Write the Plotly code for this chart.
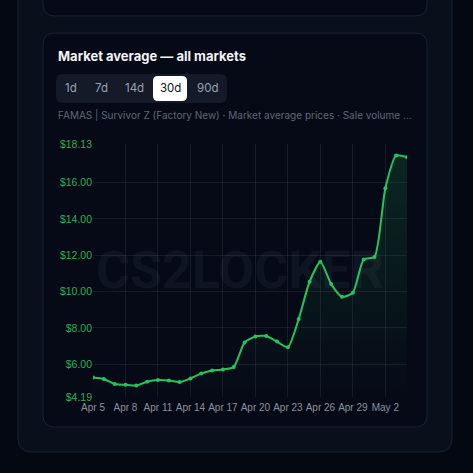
import plotly.graph_objects as go
import pandas as pd

# ---- data ----
dates = pd.date_range("2025-04-05", "2025-05-04", freq="D")
prices = [5.26, 5.18, 4.90, 4.86, 4.82, 5.03, 5.12, 5.10, 5.01, 5.21,
          5.48, 5.65, 5.70, 5.84, 7.19, 7.52, 7.55, 7.24, 6.93, 8.49,
          10.54, 11.64, 10.41, 9.71, 9.93, 11.77, 11.91, 15.70, 17.50, 17.41]
tick_dates = list(dates[::3])
tick_labels = [d.strftime("%b ") + str(d.day) for d in tick_dates]
range_buttons = ["1d", "7d", "14d", "30d", "90d"]
active_button = "30d"
title_text = "Market average — all markets"
subtitle_text = "FAMAS | Survivor Z (Factory New) · Market average prices · Sale volume ..."
watermark = "CS2LOCKER"

# ---- geometry (pixels) ----
W, H = 473, 473
PL, PR, PT, PB = 93, 407, 144, 397


def px(x):
    return (x - PL) / (PR - PL)


def py(y):
    return (PB - y) / (PB - PT)


def rrect(x0, y0, x1, y1, r):
    ax0, ax1 = px(x0), px(x1)
    ay0, ay1 = py(y0), py(y1)
    rx = r / (PR - PL)
    ry = r / (PB - PT)
    return (f"M {ax0+rx},{ay0} L {ax1-rx},{ay0} Q {ax1},{ay0} {ax1},{ay0-ry} "
            f"L {ax1},{ay1+ry} Q {ax1},{ay1} {ax1-rx},{ay1} "
            f"L {ax0+rx},{ay1} Q {ax0},{ay1} {ax0},{ay1+ry} "
            f"L {ax0},{ay0-ry} Q {ax0},{ay0} {ax0+rx},{ay0} Z")


pmin, pmax = min(prices), max(prices)
pad = (pmax - pmin) * 0.05
ymin, ymax = pmin - pad, pmax + pad
yticks = [ymin] + [v for v in range(6, 18, 2)] + [ymax]
ytext = [f"${v:.2f}" for v in yticks]

GREEN = "#22c55e"

fig = go.Figure()
fig.add_trace(go.Scatter(
    x=dates, y=prices, mode="lines+markers",
    line=dict(color=GREEN, width=2, shape="spline", smoothing=0.6),
    marker=dict(size=4, color=GREEN),
    fill="tozeroy",
    fillgradient=dict(type="vertical", start=ymin, stop=ymax,
                      colorscale=[[0, "rgba(34,197,94,0.0)"], [1, "rgba(34,197,94,0.16)"]]),
    hoverinfo="skip", showlegend=False,
))

shapes = [
    dict(type="path", path=rrect(18, -30, 452, 452, 14), xref="paper", yref="paper",
         fillcolor="#0a0f1c", line=dict(color="#1a2131", width=1), layer="below"),
    dict(type="path", path=rrect(43, -30, 427, 16, 12), xref="paper", yref="paper",
         fillcolor="#060a17", line=dict(color="#1a2131", width=1), layer="below"),
    dict(type="path", path=rrect(43, 33, 427, 427, 12), xref="paper", yref="paper",
         fillcolor="#060a17", line=dict(color="#1a2131", width=1), layer="below"),
    dict(type="path", path=rrect(56, 74, 227, 103, 7), xref="paper", yref="paper",
         fillcolor="#141a27", line=dict(width=0), layer="below"),
]
btn_centers = [71, 101, 134, 170, 207]
annotations = [
    dict(text=f"<b>{title_text}</b>", x=px(56), y=py(56), xref="paper", yref="paper",
         xanchor="left", yanchor="middle", showarrow=False,
         font=dict(family="Inter", size=13, color="#f3f4f6")),
    dict(text=subtitle_text, x=px(56), y=py(115), xref="paper", yref="paper",
         xanchor="left", yanchor="middle", showarrow=False,
         font=dict(family="Inter", size=10, color="#5f6775")),
    dict(text=f"<b>{watermark}</b>", x=px(240), y=py(270), xref="paper", yref="paper",
         xanchor="center", yanchor="middle", showarrow=False,
         font=dict(family="Roboto", size=52, color="rgba(140,160,190,0.07)")),
]
for lbl, cx in zip(range_buttons, btn_centers):
    active = lbl == active_button
    if active:
        shapes.append(dict(type="path", path=rrect(153, 76, 187, 101, 5), xref="paper",
                           yref="paper", fillcolor="#ffffff", line=dict(width=0), layer="below"))
    annotations.append(dict(text=lbl, x=px(cx), y=py(88.5), xref="paper", yref="paper",
                            xanchor="center", yanchor="middle", showarrow=False,
                            font=dict(family="Inter", size=11.5,
                                      color="#0b1220" if active else "#9aa3b2")))

fig.update_layout(
    width=W, height=H,
    margin=dict(l=PL, r=W - PR, t=PT, b=H - PB, pad=0),
    paper_bgcolor="#040812", plot_bgcolor="rgba(0,0,0,0)",
    shapes=shapes, annotations=annotations,
    xaxis=dict(range=[dates[0], dates[-1]], tickvals=tick_dates, ticktext=tick_labels,
               tickangle=0, ticklabelstandoff=3,
               showgrid=True, gridcolor="rgba(255,255,255,0.07)", gridwidth=1,
               zeroline=False, showline=False, ticks="",
               tickfont=dict(family="Liberation Sans", size=10, color="#8a919e")),
    yaxis=dict(range=[ymin, ymax], tickvals=yticks, ticktext=ytext,
               showgrid=True, gridcolor="rgba(255,255,255,0.07)", gridwidth=1,
               zeroline=False, showline=False, ticks="",
               tickfont=dict(family="Liberation Sans", size=10.5, color="#22b455")),
)

fig.write_html(
    "out.html",
    config={"displayModeBar": False},
    post_script="document.body.style.margin='0';document.body.style.padding='0';"
                "document.body.style.background='#040812';"
                "document.body.style.overflow='hidden';",
)
